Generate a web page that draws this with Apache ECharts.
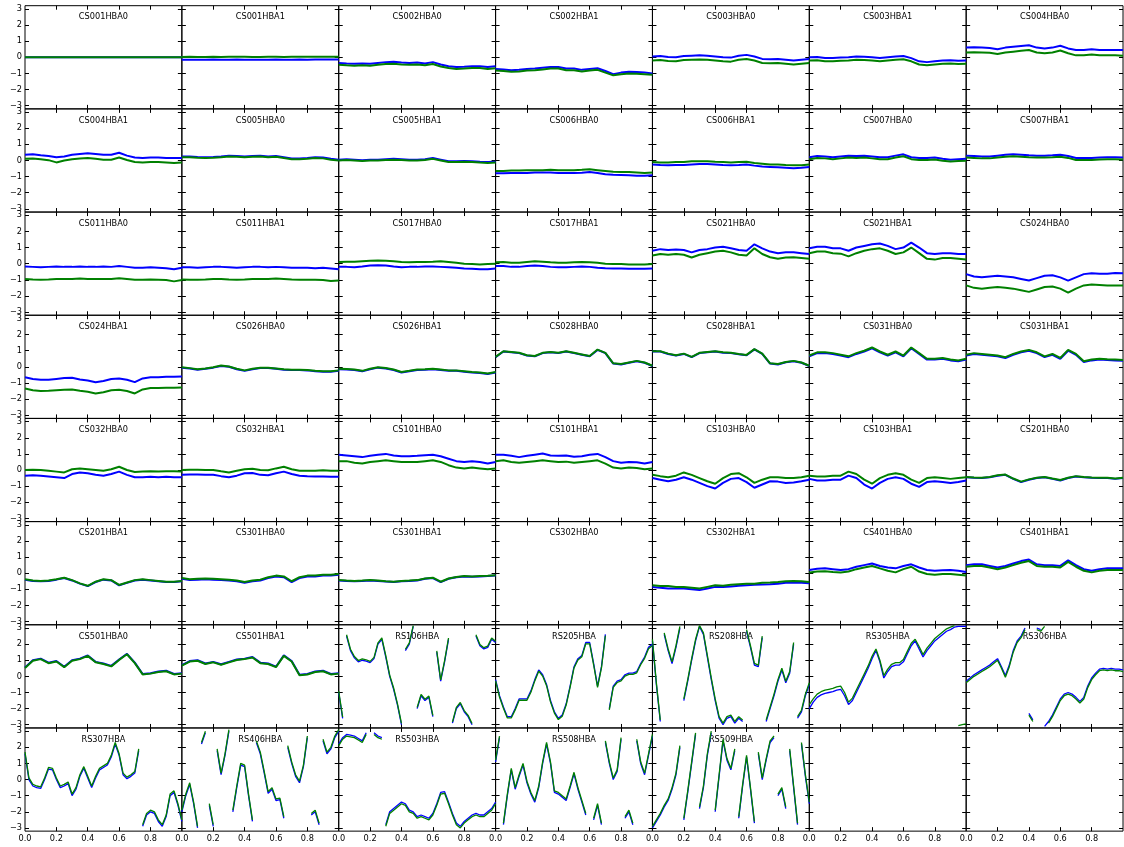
<!DOCTYPE html>
<html>
<head>
<meta charset="utf-8">
<script src="https://cdn.jsdelivr.net/npm/echarts@6.0.0/dist/echarts.min.js"></script>
<style>html,body{margin:0;padding:0;background:#fff}#chart{width:1124px;height:847px}</style>
</head>
<body>
<div id="chart"></div>
<script>
// ---------- x grids ----------
const X21 = [0,0.05,0.1,0.15,0.2,0.25,0.3,0.35,0.4,0.45,0.5,0.55,0.6,0.65,0.7,0.75,0.8,0.85,0.9,0.95,1];
const X41 = [0,0.025,0.05,0.075,0.1,0.125,0.15,0.175,0.2,0.225,0.25,0.275,0.3,0.325,0.35,0.375,0.4,0.425,0.45,0.475,0.5,0.525,0.55,0.575,0.6,0.625,0.65,0.675,0.7,0.725,0.75,0.775,0.8,0.825,0.85,0.875,0.9,0.925,0.95,0.975,1];
const xTickValues = [0.2,0.4,0.6,0.8];
const xTickLabels = [0,0.2,0.4,0.6,0.8];
const yTickValues = [-3,-2,-1,0,1,2,3];

// ---------- row 1 ----------
const B_CS001HBA0 = [0,0,0,0,0,0,0,0,0,0,0,0,0,0,0,0,0,0,0,0,0];
const G_CS001HBA0 = [0,0,0,0,0,0,0,0,0,0,0,0,0,0,0,0,0,0,0,0,0];
const B_CS001HBA1 = [-0.15,-0.15,-0.16,-0.15,-0.14,-0.15,-0.15,-0.14,-0.15,-0.16,-0.15,-0.15,-0.14,-0.15,-0.15,-0.14,-0.15,-0.14,-0.13,-0.14,-0.14];
const G_CS001HBA1 = [0.02,0.03,0.02,0.02,0.03,0.02,0.03,0.04,0.03,0.02,0.02,0.03,0.03,0.02,0.03,0.04,0.04,0.03,0.03,0.04,0.03];
const B_CS002HBA0 = [-0.35,-0.38,-0.4,-0.38,-0.4,-0.35,-0.3,-0.28,-0.32,-0.35,-0.32,-0.38,-0.3,-0.45,-0.55,-0.6,-0.58,-0.55,-0.55,-0.6,-0.55];
const G_CS002HBA0 = [-0.47,-0.5,-0.52,-0.5,-0.52,-0.47,-0.42,-0.4,-0.44,-0.47,-0.44,-0.5,-0.42,-0.57,-0.67,-0.72,-0.7,-0.67,-0.67,-0.72,-0.68];
const B_CS002HBA1 = [-0.72,-0.75,-0.8,-0.78,-0.72,-0.7,-0.65,-0.6,-0.6,-0.7,-0.7,-0.78,-0.72,-0.68,-0.85,-1.05,-0.95,-0.9,-0.92,-0.95,-1.0];
const G_CS002HBA1 = [-0.82,-0.85,-0.9,-0.88,-0.82,-0.8,-0.75,-0.7,-0.7,-0.8,-0.8,-0.88,-0.82,-0.78,-0.95,-1.12,-1.05,-1.0,-1.02,-1.05,-1.08];
const B_CS003HBA0 = [0.05,0.08,0.02,0.0,0.08,0.1,0.12,0.1,0.05,0.0,-0.02,0.1,0.15,0.05,-0.1,-0.12,-0.1,-0.15,-0.2,-0.15,-0.1];
const G_CS003HBA0 = [-0.2,-0.17,-0.23,-0.25,-0.17,-0.15,-0.13,-0.15,-0.2,-0.25,-0.27,-0.15,-0.1,-0.2,-0.35,-0.37,-0.35,-0.4,-0.45,-0.4,-0.35];
const B_CS003HBA1 = [0.0,0.02,-0.05,-0.05,-0.02,0.0,0.05,0.03,0.0,-0.05,0.0,0.05,0.08,-0.05,-0.25,-0.3,-0.25,-0.2,-0.18,-0.22,-0.2];
const G_CS003HBA1 = [-0.2,-0.18,-0.25,-0.25,-0.22,-0.2,-0.15,-0.17,-0.2,-0.25,-0.2,-0.15,-0.12,-0.25,-0.45,-0.5,-0.45,-0.4,-0.38,-0.42,-0.4];
const B_CS004HBA0 = [0.6,0.62,0.6,0.58,0.5,0.6,0.65,0.7,0.75,0.6,0.55,0.6,0.72,0.55,0.45,0.45,0.5,0.45,0.45,0.45,0.45];
const G_CS004HBA0 = [0.3,0.32,0.3,0.28,0.2,0.3,0.35,0.4,0.45,0.3,0.25,0.3,0.42,0.25,0.12,0.12,0.18,0.12,0.12,0.12,0.1];
// ---------- row 2 ----------
const B_CS004HBA1 = [0.35,0.38,0.32,0.28,0.2,0.25,0.35,0.4,0.45,0.4,0.35,0.35,0.48,0.3,0.18,0.15,0.18,0.18,0.15,0.15,0.15];
const G_CS004HBA1 = [0.1,0.12,0.08,0.02,-0.12,0.0,0.08,0.12,0.15,0.1,0.05,0.05,0.18,0.03,-0.1,-0.12,-0.1,-0.1,-0.12,-0.15,-0.12];
const B_CS005HBA0 = [0.25,0.25,0.22,0.2,0.22,0.25,0.3,0.28,0.25,0.28,0.3,0.25,0.28,0.2,0.12,0.12,0.15,0.2,0.18,0.1,0.05];
const G_CS005HBA0 = [0.2,0.2,0.17,0.15,0.17,0.2,0.25,0.23,0.2,0.23,0.25,0.2,0.23,0.15,0.08,0.08,0.1,0.15,0.13,0.05,0.0];
const B_CS005HBA1 = [0.05,0.08,0.05,0.02,0.05,0.05,0.08,0.1,0.08,0.05,0.05,0.08,0.15,0.05,-0.05,-0.05,-0.03,-0.05,-0.08,-0.1,-0.08];
const G_CS005HBA1 = [0.0,0.03,0.0,-0.03,0.0,0.0,0.03,0.05,0.03,0.0,0.0,0.03,0.1,0.0,-0.1,-0.1,-0.08,-0.1,-0.13,-0.15,-0.13];
const B_CS006HBA0 = [-0.8,-0.8,-0.78,-0.78,-0.78,-0.75,-0.75,-0.75,-0.77,-0.78,-0.78,-0.76,-0.72,-0.78,-0.85,-0.88,-0.9,-0.92,-0.95,-0.95,-0.92];
const G_CS006HBA0 = [-0.65,-0.65,-0.62,-0.62,-0.6,-0.6,-0.6,-0.58,-0.6,-0.6,-0.6,-0.58,-0.55,-0.6,-0.65,-0.7,-0.72,-0.72,-0.75,-0.78,-0.75];
const B_CS006HBA1 = [-0.25,-0.28,-0.3,-0.28,-0.28,-0.25,-0.22,-0.22,-0.25,-0.28,-0.3,-0.28,-0.25,-0.32,-0.38,-0.4,-0.42,-0.45,-0.48,-0.45,-0.4];
const G_CS006HBA1 = [-0.1,-0.12,-0.12,-0.1,-0.1,-0.05,-0.05,-0.05,-0.08,-0.1,-0.12,-0.1,-0.08,-0.15,-0.2,-0.25,-0.25,-0.28,-0.3,-0.3,-0.25];
const B_CS007HBA0 = [0.2,0.28,0.25,0.2,0.25,0.3,0.28,0.3,0.25,0.2,0.2,0.3,0.38,0.2,0.15,0.15,0.18,0.1,0.05,0.08,0.1];
const G_CS007HBA0 = [0.08,0.16,0.13,0.08,0.13,0.18,0.16,0.18,0.13,0.08,0.08,0.18,0.26,0.08,0.03,0.03,0.06,-0.02,-0.07,-0.04,-0.02];
const B_CS007HBA1 = [0.3,0.28,0.25,0.25,0.3,0.35,0.38,0.35,0.32,0.3,0.3,0.32,0.35,0.28,0.15,0.15,0.15,0.18,0.2,0.2,0.18];
const G_CS007HBA1 = [0.18,0.16,0.13,0.13,0.18,0.23,0.26,0.23,0.2,0.18,0.18,0.2,0.23,0.16,0.03,0.03,0.03,0.06,0.08,0.08,0.06];
// ---------- row 3 ----------
const B_CS011HBA0 = [-0.18,-0.2,-0.22,-0.2,-0.18,-0.2,-0.2,-0.18,-0.2,-0.2,-0.18,-0.2,-0.15,-0.2,-0.25,-0.25,-0.22,-0.25,-0.28,-0.35,-0.25];
const G_CS011HBA0 = [-0.95,-0.98,-1.0,-0.98,-0.95,-0.95,-0.95,-0.92,-0.95,-0.95,-0.95,-0.95,-0.9,-0.95,-1.0,-1.0,-0.98,-1.0,-1.02,-1.1,-1.02];
const B_CS011HBA1 = [-0.22,-0.22,-0.25,-0.22,-0.2,-0.2,-0.22,-0.25,-0.22,-0.2,-0.2,-0.22,-0.2,-0.22,-0.25,-0.25,-0.25,-0.28,-0.25,-0.3,-0.35];
const G_CS011HBA1 = [-0.98,-1.0,-1.0,-0.98,-0.95,-0.95,-0.98,-1.0,-0.98,-0.95,-0.95,-0.95,-0.92,-0.95,-0.98,-1.0,-1.0,-1.0,-1.02,-1.08,-1.05];
const B_CS017HBA0 = [-0.2,-0.2,-0.22,-0.18,-0.12,-0.1,-0.12,-0.18,-0.22,-0.2,-0.2,-0.18,-0.18,-0.2,-0.22,-0.25,-0.3,-0.32,-0.35,-0.35,-0.3];
const G_CS017HBA0 = [0.1,0.12,0.12,0.15,0.18,0.2,0.18,0.15,0.1,0.08,0.1,0.1,0.12,0.15,0.1,0.05,0.0,-0.02,-0.05,-0.02,0.0];
const B_CS017HBA1 = [-0.15,-0.15,-0.2,-0.2,-0.15,-0.12,-0.15,-0.2,-0.22,-0.22,-0.2,-0.18,-0.2,-0.25,-0.28,-0.3,-0.3,-0.32,-0.32,-0.32,-0.3];
const G_CS017HBA1 = [0.08,0.1,0.05,0.05,0.1,0.15,0.12,0.08,0.05,0.05,0.08,0.1,0.08,0.05,0.0,-0.02,-0.02,-0.05,-0.05,-0.05,-0.02];
const B_CS021HBA0 = [0.8,0.9,0.85,0.88,0.85,0.7,0.85,0.9,1.0,1.05,0.95,0.85,0.8,1.2,0.95,0.75,0.65,0.7,0.7,0.65,0.6];
const G_CS021HBA0 = [0.5,0.6,0.55,0.6,0.55,0.38,0.55,0.65,0.75,0.8,0.7,0.55,0.5,0.95,0.6,0.4,0.3,0.38,0.4,0.35,0.3];
const B_CS021HBA1 = [0.95,1.05,1.05,0.95,0.95,0.8,1.0,1.1,1.2,1.25,1.1,0.9,1.0,1.3,1.0,0.65,0.6,0.65,0.65,0.6,0.6];
const G_CS021HBA1 = [0.65,0.75,0.75,0.65,0.62,0.45,0.65,0.8,0.9,0.95,0.8,0.6,0.7,1.0,0.65,0.3,0.25,0.35,0.35,0.3,0.25];
const B_CS024HBA0 = [-0.65,-0.8,-0.85,-0.8,-0.75,-0.8,-0.85,-0.95,-1.05,-0.9,-0.75,-0.72,-0.85,-1.05,-0.85,-0.65,-0.6,-0.62,-0.62,-0.58,-0.6];
const G_CS024HBA0 = [-1.35,-1.5,-1.55,-1.5,-1.45,-1.5,-1.55,-1.65,-1.75,-1.6,-1.45,-1.42,-1.55,-1.8,-1.55,-1.35,-1.3,-1.32,-1.35,-1.35,-1.35];
// ---------- row 4 ----------
const B_CS024HBA1 = [-0.65,-0.75,-0.8,-0.8,-0.75,-0.7,-0.68,-0.78,-0.85,-0.95,-0.88,-0.75,-0.72,-0.8,-0.95,-0.72,-0.65,-0.65,-0.62,-0.62,-0.6];
const G_CS024HBA1 = [-1.35,-1.45,-1.5,-1.48,-1.45,-1.42,-1.4,-1.48,-1.55,-1.65,-1.58,-1.45,-1.42,-1.5,-1.65,-1.4,-1.32,-1.32,-1.3,-1.3,-1.28];
const B_CS026HBA0 = [-0.05,-0.1,-0.18,-0.12,-0.05,0.05,0.0,-0.15,-0.25,-0.15,-0.08,-0.08,-0.12,-0.18,-0.2,-0.2,-0.22,-0.28,-0.3,-0.3,-0.25];
const G_CS026HBA0 = [-0.03,-0.08,-0.15,-0.1,-0.02,0.08,0.02,-0.12,-0.22,-0.12,-0.05,-0.05,-0.1,-0.15,-0.18,-0.18,-0.2,-0.25,-0.28,-0.27,-0.22];
const B_CS026HBA1 = [-0.15,-0.17,-0.2,-0.28,-0.15,-0.05,-0.1,-0.2,-0.35,-0.28,-0.2,-0.18,-0.15,-0.2,-0.25,-0.25,-0.3,-0.35,-0.38,-0.45,-0.35];
const G_CS026HBA1 = [-0.12,-0.14,-0.17,-0.25,-0.12,-0.02,-0.07,-0.17,-0.32,-0.25,-0.17,-0.15,-0.12,-0.17,-0.22,-0.22,-0.27,-0.32,-0.35,-0.42,-0.32];
const B_CS028HBA0 = [0.6,0.95,0.9,0.85,0.7,0.65,0.85,0.9,0.85,0.95,0.85,0.75,0.65,1.05,0.85,0.2,0.15,0.25,0.35,0.25,0.05];
const G_CS028HBA0 = [0.62,0.97,0.92,0.87,0.72,0.67,0.87,0.92,0.87,0.97,0.87,0.77,0.67,1.07,0.87,0.22,0.17,0.27,0.37,0.27,0.07];
const B_CS028HBA1 = [0.95,0.95,0.8,0.7,0.8,0.6,0.85,0.9,0.95,0.88,0.85,0.78,0.72,1.08,0.8,0.2,0.15,0.28,0.35,0.25,0.05];
const G_CS028HBA1 = [0.97,0.97,0.82,0.72,0.82,0.62,0.87,0.92,0.97,0.9,0.87,0.8,0.74,1.1,0.82,0.22,0.17,0.3,0.37,0.27,0.07];
const B_CS031HBA0 = [0.65,0.85,0.85,0.8,0.7,0.6,0.8,0.95,1.15,0.9,0.7,0.9,0.65,1.15,0.8,0.45,0.45,0.5,0.4,0.35,0.45];
const G_CS031HBA0 = [0.7,0.9,0.9,0.85,0.75,0.65,0.85,1.0,1.2,0.95,0.75,0.95,0.7,1.2,0.85,0.5,0.5,0.55,0.45,0.4,0.5];
const B_CS031HBA1 = [0.7,0.8,0.75,0.7,0.65,0.55,0.75,0.9,1.0,0.85,0.6,0.75,0.5,1.0,0.75,0.3,0.4,0.45,0.42,0.4,0.38];
const G_CS031HBA1 = [0.75,0.85,0.8,0.75,0.7,0.6,0.8,0.95,1.05,0.9,0.65,0.8,0.55,1.05,0.8,0.35,0.45,0.5,0.47,0.45,0.43];
// ---------- row 5 ----------
const B_CS032HBA0 = [-0.35,-0.32,-0.35,-0.4,-0.45,-0.5,-0.25,-0.15,-0.2,-0.3,-0.35,-0.25,-0.1,-0.3,-0.45,-0.45,-0.42,-0.45,-0.42,-0.45,-0.45];
const G_CS032HBA0 = [0.0,0.02,0.0,-0.05,-0.1,-0.15,0.05,0.1,0.05,0.0,-0.05,0.05,0.2,0.0,-0.12,-0.1,-0.08,-0.1,-0.08,-0.08,-0.1];
const B_CS032HBA1 = [-0.3,-0.28,-0.28,-0.3,-0.3,-0.38,-0.45,-0.35,-0.2,-0.18,-0.3,-0.32,-0.2,-0.1,-0.25,-0.35,-0.38,-0.4,-0.4,-0.42,-0.42];
const G_CS032HBA1 = [0.0,0.02,0.02,0.0,0.0,-0.08,-0.15,-0.05,0.05,0.08,0.0,-0.02,0.1,0.2,0.05,-0.05,-0.05,-0.05,-0.02,-0.05,-0.05];
const B_CS101HBA0 = [0.95,0.9,0.85,0.8,0.88,0.95,1.0,0.9,0.85,0.85,0.88,0.92,0.95,0.85,0.7,0.55,0.5,0.55,0.5,0.4,0.5];
const G_CS101HBA0 = [0.55,0.55,0.45,0.4,0.5,0.55,0.6,0.55,0.5,0.5,0.5,0.55,0.6,0.5,0.3,0.15,0.1,0.15,0.1,0.05,0.1];
const B_CS101HBA1 = [0.95,0.95,0.88,0.8,0.88,0.95,1.02,0.9,0.88,0.9,0.82,0.85,0.95,1.0,0.8,0.55,0.45,0.5,0.48,0.4,0.5];
const G_CS101HBA1 = [0.55,0.6,0.5,0.45,0.5,0.55,0.6,0.55,0.5,0.52,0.45,0.5,0.55,0.6,0.4,0.15,0.1,0.15,0.12,0.05,0.1];
const B_CS103HBA0 = [-0.5,-0.6,-0.7,-0.6,-0.45,-0.6,-0.8,-1.0,-1.15,-0.8,-0.55,-0.5,-0.75,-1.1,-0.9,-0.7,-0.72,-0.8,-0.78,-0.7,-0.6];
const G_CS103HBA0 = [-0.3,-0.38,-0.45,-0.35,-0.15,-0.3,-0.5,-0.7,-0.85,-0.5,-0.25,-0.2,-0.45,-0.8,-0.6,-0.45,-0.45,-0.5,-0.5,-0.45,-0.35];
const B_CS103HBA1 = [-0.55,-0.65,-0.65,-0.6,-0.6,-0.35,-0.5,-0.9,-1.15,-0.8,-0.55,-0.45,-0.55,-0.85,-1.05,-0.75,-0.7,-0.75,-0.8,-0.75,-0.65];
const G_CS103HBA1 = [-0.35,-0.4,-0.4,-0.35,-0.35,-0.1,-0.25,-0.6,-0.85,-0.5,-0.3,-0.2,-0.3,-0.6,-0.8,-0.5,-0.45,-0.5,-0.55,-0.5,-0.45];
const B_CS201HBA0 = [-0.45,-0.48,-0.5,-0.45,-0.35,-0.3,-0.55,-0.75,-0.6,-0.5,-0.45,-0.55,-0.65,-0.5,-0.4,-0.45,-0.48,-0.5,-0.5,-0.55,-0.5];
const G_CS201HBA0 = [-0.43,-0.46,-0.48,-0.43,-0.33,-0.28,-0.53,-0.72,-0.58,-0.48,-0.43,-0.53,-0.62,-0.48,-0.38,-0.43,-0.46,-0.48,-0.48,-0.52,-0.48];
// ---------- row 6 ----------
const B_CS201HBA1 = [-0.4,-0.48,-0.5,-0.48,-0.4,-0.3,-0.45,-0.65,-0.8,-0.55,-0.4,-0.45,-0.75,-0.6,-0.45,-0.4,-0.45,-0.5,-0.55,-0.55,-0.5];
const G_CS201HBA1 = [-0.38,-0.46,-0.48,-0.46,-0.38,-0.28,-0.43,-0.63,-0.78,-0.53,-0.38,-0.43,-0.73,-0.58,-0.43,-0.38,-0.43,-0.48,-0.53,-0.53,-0.48];
const B_CS301HBA0 = [-0.35,-0.42,-0.4,-0.38,-0.4,-0.42,-0.45,-0.5,-0.6,-0.5,-0.45,-0.3,-0.2,-0.25,-0.55,-0.3,-0.2,-0.2,-0.15,-0.15,-0.1];
const G_CS301HBA0 = [-0.3,-0.37,-0.35,-0.33,-0.35,-0.37,-0.4,-0.45,-0.55,-0.45,-0.4,-0.25,-0.15,-0.2,-0.5,-0.25,-0.15,-0.15,-0.1,-0.1,-0.05];
const B_CS301HBA1 = [-0.45,-0.48,-0.5,-0.48,-0.45,-0.48,-0.52,-0.55,-0.5,-0.48,-0.45,-0.35,-0.3,-0.55,-0.35,-0.25,-0.2,-0.22,-0.2,-0.18,-0.15];
const G_CS301HBA1 = [-0.43,-0.46,-0.48,-0.46,-0.43,-0.46,-0.5,-0.53,-0.48,-0.46,-0.43,-0.33,-0.28,-0.53,-0.33,-0.23,-0.18,-0.2,-0.18,-0.16,-0.13];
const B_CS302HBA0 = [];
const G_CS302HBA0 = [];
const B_CS302HBA1 = [-0.85,-0.9,-0.95,-0.95,-0.95,-1.0,-1.05,-0.95,-0.85,-0.85,-0.82,-0.78,-0.75,-0.72,-0.7,-0.68,-0.65,-0.6,-0.58,-0.6,-0.62];
const G_CS302HBA1 = [-0.75,-0.8,-0.8,-0.85,-0.85,-0.9,-0.95,-0.85,-0.75,-0.78,-0.72,-0.68,-0.65,-0.65,-0.6,-0.58,-0.55,-0.5,-0.48,-0.5,-0.55];
const B_CS401HBA0 = [0.2,0.28,0.3,0.25,0.2,0.25,0.4,0.5,0.6,0.45,0.35,0.3,0.45,0.55,0.35,0.2,0.15,0.18,0.2,0.15,0.08];
const G_CS401HBA0 = [0.05,0.1,0.12,0.08,0.05,0.1,0.25,0.35,0.45,0.3,0.15,0.05,0.25,0.4,0.1,-0.05,-0.1,-0.05,-0.05,-0.1,-0.15];
const B_CS401HBA1 = [0.5,0.55,0.55,0.45,0.35,0.45,0.6,0.75,0.85,0.55,0.5,0.5,0.45,0.8,0.5,0.25,0.15,0.25,0.3,0.3,0.3];
const G_CS401HBA1 = [0.4,0.45,0.45,0.35,0.25,0.35,0.5,0.65,0.75,0.45,0.4,0.4,0.35,0.7,0.4,0.15,0.05,0.15,0.2,0.2,0.2];
// ---------- row 7 ----------
const B_CS501HBA0 = [0.55,1.0,1.1,0.85,0.95,0.6,1.0,1.1,1.3,0.9,0.8,0.65,1.05,1.4,0.85,0.15,0.2,0.3,0.35,0.15,0.2];
const G_CS501HBA0 = [0.52,0.97,1.07,0.82,0.92,0.57,0.97,1.07,1.27,0.87,0.77,0.62,1.02,1.37,0.82,0.12,0.17,0.27,0.32,0.12,0.17];
const B_CS501HBA1 = [0.7,0.95,1.0,0.8,0.9,0.75,0.9,1.05,1.1,1.2,0.85,0.8,0.6,1.3,0.95,0.1,0.15,0.3,0.35,0.15,0.2];
const G_CS501HBA1 = [0.67,0.92,0.97,0.77,0.87,0.72,0.87,1.02,1.07,1.17,0.82,0.77,0.57,1.27,0.92,0.07,0.12,0.27,0.32,0.12,0.17];
const B_RS106HBA = [-1.0,-2.6,2.5,1.6,1.15,0.9,1.0,0.95,0.85,1.1,2.0,2.3,1.2,0.0,-0.8,-1.8,-3.0,1.6,2.0,3.1,-2.0,-1.2,-1.5,-1.3,-2.5,1.5,-0.3,0.9,2.3,-2.9,-2.0,-1.7,-2.2,-2.5,-3.0,2.5,1.9,1.7,1.8,2.3,2.1];
const G_RS106HBA = [-0.92,-2.52,2.58,1.68,1.23,0.98,1.08,1.03,0.93,1.18,2.08,2.38,1.28,0.08,-0.72,-1.72,-2.92,1.68,2.08,3.15,-1.92,-1.12,-1.42,-1.22,-2.42,1.58,-0.22,0.98,2.38,-2.82,-1.92,-1.62,-2.12,-2.42,-2.92,2.58,1.98,1.78,1.88,2.38,2.18];
const B_RS205HBA = [-0.2,-1.2,-1.9,-2.5,-2.5,-2.0,-1.4,-1.4,-1.4,-0.9,-0.2,0.4,0.1,-0.5,-1.5,-2.2,-2.6,-2.4,-1.7,-0.6,0.6,1.1,1.3,2.1,2.1,0.8,-0.6,0.6,2.6,-2.0,-0.6,-0.3,-0.2,0.1,0.2,0.2,0.3,0.8,1.2,1.8,2.0];
const G_RS205HBA = [-0.28,-1.28,-1.98,-2.58,-2.58,-2.08,-1.48,-1.48,-1.48,-0.98,-0.28,0.32,0.02,-0.58,-1.58,-2.28,-2.68,-2.48,-1.78,-0.68,0.52,1.02,1.22,2.02,2.02,0.72,-0.68,0.52,2.52,-2.08,-0.68,-0.38,-0.28,0.02,0.12,0.12,0.22,0.72,1.12,1.72,1.92];
const B_RS208HBA = [2.2,-0.5,-2.8,2.6,1.6,0.8,1.8,3.0,-1.5,-0.3,1.0,2.2,3.1,2.6,1.2,-0.2,-1.5,-2.6,-3.0,-2.6,-2.5,-2.9,-2.6,-2.8,2.8,1.8,0.7,0.6,2.4,-2.8,-2.0,-1.2,-0.3,0.4,-0.4,0.2,2.0,-2.6,-2.2,-1.2,-0.5];
const G_RS208HBA = [2.3,-0.4,-2.7,2.7,1.7,0.9,1.9,3.1,-1.4,-0.2,1.1,2.3,3.15,2.7,1.3,-0.1,-1.4,-2.5,-2.9,-2.5,-2.4,-2.8,-2.5,-2.7,2.9,1.9,0.8,0.7,2.5,-2.7,-1.9,-1.1,-0.2,0.5,-0.3,0.3,2.1,-2.5,-2.1,-1.1,-0.4];
const B_RS305HBA = [-2.0,-1.6,-1.3,-1.15,-1.05,-1.0,-0.95,-0.85,-0.8,-1.2,-1.75,-1.5,-1.0,-0.5,0.0,0.5,1.1,1.6,0.9,-0.1,0.3,0.6,0.7,0.7,0.9,1.4,1.9,2.2,1.7,1.2,1.6,1.9,2.2,2.4,2.6,2.8,2.9,3.05,3.1,3.1,3.1];
const G_RS305HBA = [-1.75,-1.4,-1.1,-0.95,-0.85,-0.8,-0.75,-0.65,-0.6,-1.0,-1.6,-1.35,-0.85,-0.35,0.15,0.65,1.25,1.7,1.0,0.05,0.45,0.75,0.85,0.85,1.05,1.55,2.05,2.3,1.85,1.35,1.75,2.05,2.35,2.55,2.75,2.95,3.05,3.15,-3.05,-3.0,-2.95];
const B_RS306HBA = [-0.3,-0.1,0.1,0.25,0.4,0.55,0.7,0.9,1.1,0.6,0.05,0.7,1.6,2.2,2.5,3.0,-2.3,-2.7,3.0,2.9,-3.1,-2.8,-2.4,-1.9,-1.4,-1.1,-1.0,-1.1,-1.3,-1.55,-1.3,-0.6,-0.1,0.2,0.45,0.5,0.45,0.5,0.45,0.45,0.4];
const G_RS306HBA = [-0.4,-0.2,0.0,0.15,0.3,0.45,0.6,0.8,1.0,0.5,-0.05,0.6,1.5,2.1,2.4,2.9,-2.4,-2.8,2.9,2.8,3.1,-2.9,-2.5,-2.0,-1.5,-1.2,-1.1,-1.2,-1.4,-1.65,-1.4,-0.7,-0.2,0.1,0.35,0.4,0.35,0.4,0.35,0.35,0.3];
// ---------- row 8 ----------
const B_RS307HBA = [1.6,0.0,-0.4,-0.5,-0.55,0.0,0.65,0.6,0.0,-0.5,-0.4,-0.25,-1.0,-0.6,0.2,0.7,0.1,-0.5,0.1,0.6,0.75,0.9,1.4,2.2,1.5,0.3,0.05,0.2,0.4,1.8,-2.9,-2.2,-2.0,-2.1,-2.6,-2.9,-2.3,-1.0,-0.8,-1.6,-2.6];
const G_RS307HBA = [1.7,0.1,-0.3,-0.4,-0.45,0.1,0.75,0.7,0.1,-0.4,-0.3,-0.15,-0.9,-0.5,0.3,0.8,0.2,-0.4,0.2,0.7,0.85,1.0,1.5,2.3,1.6,0.4,0.15,0.3,0.5,1.9,-2.8,-2.1,-1.9,-2.0,-2.5,-2.8,-2.2,-0.9,-0.7,-1.5,-2.5];
const B_RS406HBA = [-2.0,-1.0,-0.3,-1.5,-3.0,2.2,2.9,-1.6,-2.9,1.8,0.3,1.5,3.0,-2.0,-0.5,0.9,0.8,-1.0,-2.6,2.3,1.6,0.4,-0.85,-0.6,-1.3,-1.25,-2.4,2.0,1.0,0.2,-0.2,0.8,2.6,-2.2,-2.0,-2.8,2.4,1.6,1.9,2.6,3.0];
const G_RS406HBA = [-1.9,-0.9,-0.2,-1.4,-2.9,2.3,3.0,-1.5,-2.8,1.9,0.4,1.6,3.1,-1.9,-0.4,1.0,0.9,-0.9,-2.5,2.4,1.7,0.5,-0.75,-0.5,-1.2,-1.15,-2.3,2.1,1.1,0.3,-0.1,0.9,2.7,-2.1,-1.9,-2.7,2.5,1.7,2.0,2.7,3.1];
const B_RS503HBA = [2.2,2.6,2.8,2.75,2.7,2.55,2.4,2.9,-3.0,2.9,2.7,2.6,-2.8,-2.0,-1.8,-1.6,-1.4,-1.5,-1.9,-2.0,-2.3,-2.2,-2.3,-2.4,-2.1,-1.5,-0.8,-0.75,-1.4,-2.1,-2.7,-2.9,-2.6,-2.4,-2.2,-2.1,-2.2,-2.2,-2.0,-1.8,-1.4];
const G_RS503HBA = [2.1,2.5,2.7,2.65,2.6,2.45,2.3,2.8,-3.1,2.8,2.6,2.5,-2.9,-2.1,-1.9,-1.7,-1.5,-1.6,-2.0,-2.1,-2.4,-2.3,-2.4,-2.5,-2.2,-1.6,-0.9,-0.85,-1.5,-2.2,-2.8,-3.0,-2.7,-2.5,-2.3,-2.2,-2.3,-2.3,-2.1,-1.9,-1.5];
const B_RS508HBA = [1.1,2.6,-2.8,-1.0,0.6,-0.6,0.2,0.9,-0.2,-0.9,-1.4,-0.5,1.0,2.2,1.0,-0.8,-0.9,-1.1,-1.3,-0.5,0.35,-0.6,-1.4,-2.2,2.8,-2.5,-1.6,-2.8,2.3,1.0,0.0,0.5,2.5,-2.4,-2.0,-2.8,2.4,1.0,0.3,1.5,2.7];
const G_RS508HBA = [1.2,2.7,-2.7,-0.9,0.7,-0.5,0.3,1.0,-0.1,-0.8,-1.3,-0.4,1.1,2.3,1.1,-0.7,-0.8,-1.0,-1.2,-0.4,0.45,-0.5,-1.3,-2.1,2.9,-2.4,-1.5,-2.7,2.4,1.1,0.1,0.6,2.6,-2.3,-1.9,-2.7,2.5,1.1,0.4,1.6,2.8];
const B_RS509HBA = [-3.0,-2.6,-2.2,-1.7,-1.3,-0.6,0.3,2.0,-2.5,-0.8,1.0,2.8,-1.8,-0.5,1.5,2.9,-2.0,0.2,2.4,1.2,0.6,1.8,-2.4,-0.4,1.4,-0.6,-2.7,1.6,0.0,1.2,2.3,2.6,-1.0,-0.6,-1.8,1.8,-0.5,-2.8,2.2,0.2,-1.5];
const G_RS509HBA = [-2.9,-2.5,-2.1,-1.6,-1.2,-0.5,0.4,2.1,-2.4,-0.7,1.1,2.9,-1.7,-0.4,1.6,3.0,-1.9,0.3,2.5,1.3,0.7,1.9,-2.3,-0.3,1.5,-0.5,-2.6,1.7,0.1,1.3,2.4,2.7,-0.9,-0.5,-1.7,1.9,-0.4,-2.7,2.3,0.3,-1.4];

// ---------- panel list (row-major, 7 columns) ----------
const panels = [
  ['CS001HBA0', X21, B_CS001HBA0, G_CS001HBA0], ['CS001HBA1', X21, B_CS001HBA1, G_CS001HBA1],
  ['CS002HBA0', X21, B_CS002HBA0, G_CS002HBA0], ['CS002HBA1', X21, B_CS002HBA1, G_CS002HBA1],
  ['CS003HBA0', X21, B_CS003HBA0, G_CS003HBA0], ['CS003HBA1', X21, B_CS003HBA1, G_CS003HBA1],
  ['CS004HBA0', X21, B_CS004HBA0, G_CS004HBA0],
  ['CS004HBA1', X21, B_CS004HBA1, G_CS004HBA1], ['CS005HBA0', X21, B_CS005HBA0, G_CS005HBA0],
  ['CS005HBA1', X21, B_CS005HBA1, G_CS005HBA1], ['CS006HBA0', X21, B_CS006HBA0, G_CS006HBA0],
  ['CS006HBA1', X21, B_CS006HBA1, G_CS006HBA1], ['CS007HBA0', X21, B_CS007HBA0, G_CS007HBA0],
  ['CS007HBA1', X21, B_CS007HBA1, G_CS007HBA1],
  ['CS011HBA0', X21, B_CS011HBA0, G_CS011HBA0], ['CS011HBA1', X21, B_CS011HBA1, G_CS011HBA1],
  ['CS017HBA0', X21, B_CS017HBA0, G_CS017HBA0], ['CS017HBA1', X21, B_CS017HBA1, G_CS017HBA1],
  ['CS021HBA0', X21, B_CS021HBA0, G_CS021HBA0], ['CS021HBA1', X21, B_CS021HBA1, G_CS021HBA1],
  ['CS024HBA0', X21, B_CS024HBA0, G_CS024HBA0],
  ['CS024HBA1', X21, B_CS024HBA1, G_CS024HBA1], ['CS026HBA0', X21, B_CS026HBA0, G_CS026HBA0],
  ['CS026HBA1', X21, B_CS026HBA1, G_CS026HBA1], ['CS028HBA0', X21, B_CS028HBA0, G_CS028HBA0],
  ['CS028HBA1', X21, B_CS028HBA1, G_CS028HBA1], ['CS031HBA0', X21, B_CS031HBA0, G_CS031HBA0],
  ['CS031HBA1', X21, B_CS031HBA1, G_CS031HBA1],
  ['CS032HBA0', X21, B_CS032HBA0, G_CS032HBA0], ['CS032HBA1', X21, B_CS032HBA1, G_CS032HBA1],
  ['CS101HBA0', X21, B_CS101HBA0, G_CS101HBA0], ['CS101HBA1', X21, B_CS101HBA1, G_CS101HBA1],
  ['CS103HBA0', X21, B_CS103HBA0, G_CS103HBA0], ['CS103HBA1', X21, B_CS103HBA1, G_CS103HBA1],
  ['CS201HBA0', X21, B_CS201HBA0, G_CS201HBA0],
  ['CS201HBA1', X21, B_CS201HBA1, G_CS201HBA1], ['CS301HBA0', X21, B_CS301HBA0, G_CS301HBA0],
  ['CS301HBA1', X21, B_CS301HBA1, G_CS301HBA1], ['CS302HBA0', X21, B_CS302HBA0, G_CS302HBA0],
  ['CS302HBA1', X21, B_CS302HBA1, G_CS302HBA1], ['CS401HBA0', X21, B_CS401HBA0, G_CS401HBA0],
  ['CS401HBA1', X21, B_CS401HBA1, G_CS401HBA1],
  ['CS501HBA0', X21, B_CS501HBA0, G_CS501HBA0], ['CS501HBA1', X21, B_CS501HBA1, G_CS501HBA1],
  ['RS106HBA', X41, B_RS106HBA, G_RS106HBA], ['RS205HBA', X41, B_RS205HBA, G_RS205HBA],
  ['RS208HBA', X41, B_RS208HBA, G_RS208HBA], ['RS305HBA', X41, B_RS305HBA, G_RS305HBA],
  ['RS306HBA', X41, B_RS306HBA, G_RS306HBA],
  ['RS307HBA', X41, B_RS307HBA, G_RS307HBA], ['RS406HBA', X41, B_RS406HBA, G_RS406HBA],
  ['RS503HBA', X41, B_RS503HBA, G_RS503HBA], ['RS508HBA', X41, B_RS508HBA, G_RS508HBA],
  ['RS509HBA', X41, B_RS509HBA, G_RS509HBA]
];

// ---------- layout / build ----------
const NR = 8, NC = 7;
const L0 = 25, T0 = 5.7, PW = 156.86, PH = 103.18;
const FONT = 'DejaVu Sans';
const FS = 8.2;

// pair x and y; break the line where the phase wraps around
function build(xs, ys) {
  const out = [];
  for (let i = 0; i < ys.length; i++) {
    if (i > 0 && Math.abs(ys[i] - ys[i - 1]) > Math.PI) out.push([xs[i - 1], null]);
    out.push([xs[i], ys[i]]);
  }
  return out;
}
function minusFmt(v) { return v < 0 ? '\u2212' + (-v) : String(v); }

const grid = [], xAxis = [], yAxis = [], series = [], graphic = [];
const tick = { show: true, inside: true, length: 4, lineStyle: { color: '#000', width: 1 } };
const noLine = { show: false, onZero: false };

for (let k = 0; k < NR * NC; k++) {
  const r = Math.floor(k / NC), c = k % NC;
  const left = L0 + c * PW, top = T0 + r * PH;
  grid.push({ left: left, top: top, width: PW, height: PH, show: true,
    borderColor: '#000', borderWidth: 1, backgroundColor: 'transparent' });
  xAxis.push({ gridIndex: k, type: 'value', min: 0, max: 1, position: 'bottom',
    axisLine: noLine, splitLine: { show: false },
    axisTick: Object.assign({}, tick, { customValues: xTickValues }),
    axisLabel: { show: r === NR - 1, customValues: xTickLabels, formatter: v => v.toFixed(1),
      fontSize: FS, fontFamily: FONT, color: '#000', margin: 4 } });
  xAxis.push({ gridIndex: k, type: 'value', min: 0, max: 1, position: 'top',
    axisLine: noLine, splitLine: { show: false },
    axisTick: Object.assign({}, tick, { customValues: xTickValues }),
    axisLabel: { show: false } });
  yAxis.push({ gridIndex: k, type: 'value', min: -3.2, max: 3.2, position: 'left',
    axisLine: noLine, splitLine: { show: false },
    axisTick: Object.assign({}, tick, { customValues: yTickValues }),
    axisLabel: { show: c === 0, customValues: yTickValues, formatter: minusFmt,
      fontSize: FS, fontFamily: FONT, color: '#000', margin: 3 } });
  yAxis.push({ gridIndex: k, type: 'value', min: -3.2, max: 3.2, position: 'right',
    axisLine: noLine, splitLine: { show: false },
    axisTick: Object.assign({}, tick, { customValues: yTickValues }),
    axisLabel: { show: false } });

  const p = panels[k];
  if (!p) continue;
  graphic.push({ type: 'text', x: left + PW / 2, y: top + 11.6, silent: true,
    style: { text: p[0], fill: '#000', fontSize: FS, fontFamily: FONT, align: 'center', verticalAlign: 'middle' } });
  const isRS = p[1] === X41;
  const w = isRS ? 1.3 : 2;
  [[p[2], '#0000ff'], [p[3], '#008000']].forEach(([ys, col]) => {
    if (!ys.length) return;
    series.push({ type: 'line', xAxisIndex: 2 * k, yAxisIndex: 2 * k, data: build(p[1], ys),
      showSymbol: false, symbol: 'none', connectNulls: false, silent: true, animation: false,
      lineStyle: { color: col, width: w }, itemStyle: { color: col } });
  });
}

const chart = echarts.init(document.getElementById('chart'), null, { renderer: 'canvas' });
chart.setOption({
  animation: false,
  textStyle: { fontFamily: FONT },
  grid: grid, xAxis: xAxis, yAxis: yAxis, series: series, graphic: graphic
});
</script>
</body>
</html>
